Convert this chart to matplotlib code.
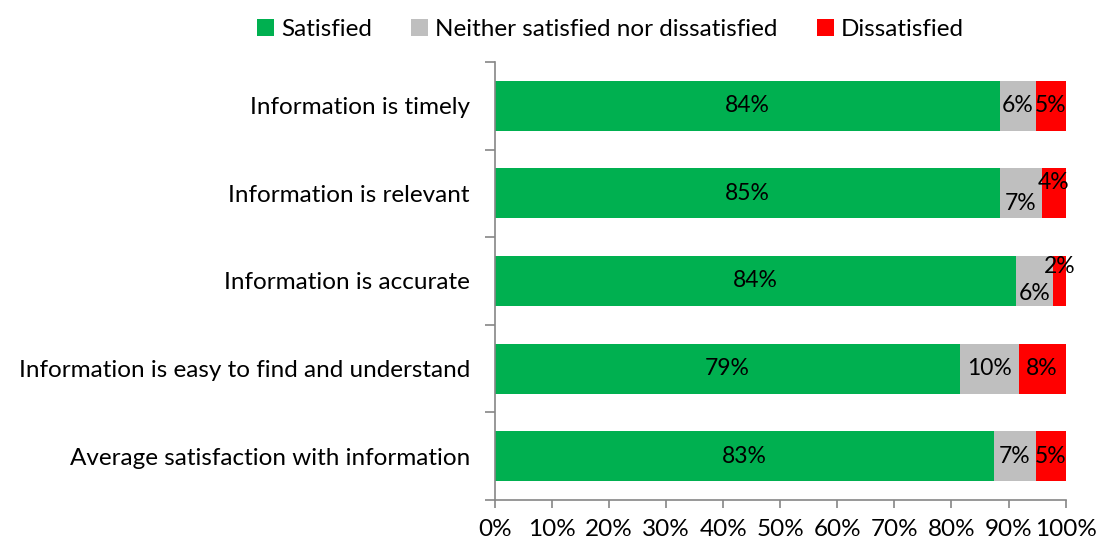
import numpy as np
import matplotlib
matplotlib.use("Agg")
import matplotlib.pyplot as plt
from matplotlib.ticker import FixedLocator

plt.rcParams['font.family'] = ['Lato', 'DejaVu Sans']

categories = ["Information is timely", "Information is relevant",
              "Information is accurate", "Information is easy to find and understand",
              "Average satisfaction with information"]
satisfied = [84, 85, 84, 79, 83]
neither = [6, 7, 6, 10, 7]
dissatisfied = [5, 4, 2, 8, 5]
series_names = ["Satisfied", "Neither satisfied nor dissatisfied", "Dissatisfied"]
x_ticks = [0, 10, 20, 30, 40, 50, 60, 70, 80, 90, 100]

colors = ["#00B050", "#BFBFBF", "#FF0000"]
# vertical nudges (in bar units) for the small labels that would overlap
label_dy = [
    [0, 0, 0],
    [0, 0.12, -0.12],
    [0, 0.14, -0.16],
    [0, 0, 0],
    [0, 0, 0],
]

raw = np.array([satisfied, neither, dissatisfied], dtype=float)
share = raw / raw.sum(axis=0) * 100

fig = plt.figure(figsize=(11.02, 5.48), dpi=100)
ax = fig.add_axes([0.449, 0.0876, 0.518, 0.7994])

y = np.arange(len(categories))
left = np.zeros(len(categories))
for k in range(3):
    ax.barh(y, share[k], left=left, height=0.57, color=colors[k], label=series_names[k])
    for i in range(len(categories)):
        cx = left[i] + share[k][i] / 2
        ax.text(cx, y[i] + label_dy[i][k], f"{int(raw[k][i])}%", ha="center", va="center",
                fontsize=16.5, color="black")
    left += share[k]

ax.set_ylim(len(categories) - 0.5, -0.5)
ax.set_xlim(0, 100)
ax.set_yticks(y)
ax.set_yticklabels(categories, fontsize=17.5)
ax.yaxis.set_minor_locator(FixedLocator(np.arange(-0.5, len(categories), 1)))
ax.tick_params(axis="y", which="major", length=0, pad=18)
ax.tick_params(axis="y", which="minor", length=7, color="#868686", width=1.2)
ax.set_xticks(x_ticks)
ax.set_xticklabels([f"{t}%" for t in x_ticks], fontsize=17.5)
ax.tick_params(axis="x", length=6, color="#868686", width=1.2, pad=8)

for s in ["top", "right"]:
    ax.spines[s].set_visible(False)
for s in ["left", "bottom"]:
    ax.spines[s].set_color("#868686")
    ax.spines[s].set_linewidth(1.2)

fig.legend(loc="upper center", bbox_to_anchor=(0.554, 1.005), ncol=3, frameon=False,
           fontsize=17.5, handlelength=0.7, handleheight=0.7, handletextpad=0.3,
           columnspacing=1.6)

fig.savefig("out.png", dpi=100)
